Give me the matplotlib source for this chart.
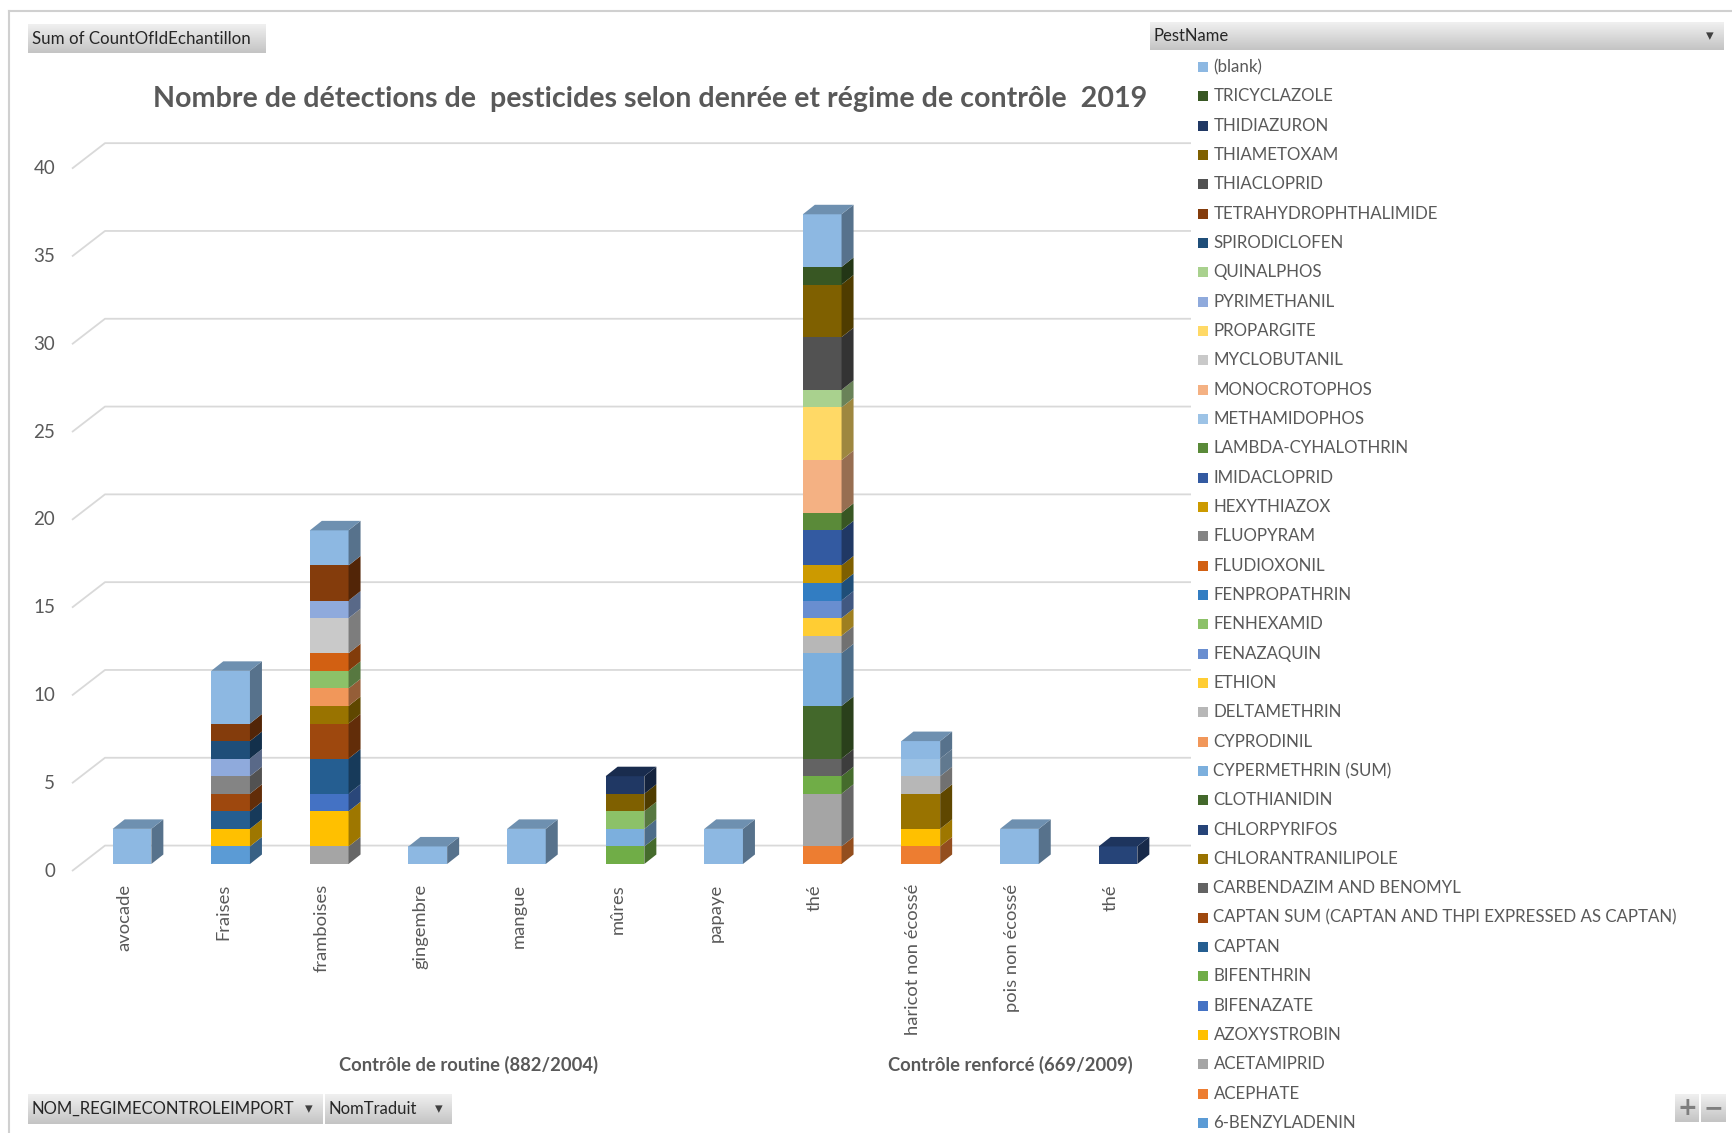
import matplotlib.pyplot as plt
import matplotlib.colors as mcolors
from matplotlib.patches import Polygon, Rectangle
import numpy as np
import pandas as pd

plt.rcParams['font.family'] = ['Lato', 'DejaVu Sans']

# --- donnees ---
categories = ['avocade', 'Fraises', 'framboises', 'gingembre', 'mangue', 'mûres',
              'papaye', 'thé', 'haricot non écossé', 'pois non écossé', 'thé']
regimes = ['Contrôle de routine (882/2004)'] * 8 + ['Contrôle renforcé (669/2009)'] * 3

# ordre d'empilement (bas -> haut), la legende est dans l'ordre inverse
pests = ['6-BENZYLADENIN', 'ACEPHATE', 'ACETAMIPRID', 'AZOXYSTROBIN', 'BIFENAZATE',
         'BIFENTHRIN', 'CAPTAN', 'CAPTAN SUM (CAPTAN AND THPI EXPRESSED AS CAPTAN)',
         'CARBENDAZIM AND BENOMYL', 'CHLORANTRANILIPOLE', 'CHLORPYRIFOS', 'CLOTHIANIDIN',
         'CYPERMETHRIN (SUM)', 'CYPRODINIL', 'DELTAMETHRIN', 'ETHION', 'FENAZAQUIN',
         'FENHEXAMID', 'FENPROPATHRIN', 'FLUDIOXONIL', 'FLUOPYRAM', 'HEXYTHIAZOX',
         'IMIDACLOPRID', 'LAMBDA-CYHALOTHRIN', 'METHAMIDOPHOS', 'MONOCROTOPHOS',
         'MYCLOBUTANIL', 'PROPARGITE', 'PYRIMETHANIL', 'QUINALPHOS', 'SPIRODICLOFEN',
         'TETRAHYDROPHTHALIMIDE', 'THIACLOPRID', 'THIAMETOXAM', 'THIDIAZURON',
         'TRICYCLAZOLE', '(blank)']
pest_colors = ['#5B9BD5', '#ED7D31', '#A5A5A5', '#FFC000', '#4472C4',
               '#70AD47', '#255E91', '#9E480E', '#636363', '#997300', '#264478',
               '#43682B', '#7CAFDD', '#F1975A', '#B7B7B7', '#FFCD33', '#698ED0',
               '#8CC168', '#327DC2', '#D26012', '#848484', '#CC9A00', '#335AA1',
               '#5A8A39', '#9DC3E6', '#F4B183', '#C9C9C9', '#FFD966', '#8FAADC',
               '#A9D18E', '#1F4E79', '#843C0C', '#525252', '#7F6000', '#203864',
               '#385723', '#8DB8E2']

avocade = {'(blank)': 2}
fraises = {'6-BENZYLADENIN': 1, 'AZOXYSTROBIN': 1, 'CAPTAN': 1,
           'CAPTAN SUM (CAPTAN AND THPI EXPRESSED AS CAPTAN)': 1, 'FLUOPYRAM': 1,
           'PYRIMETHANIL': 1, 'SPIRODICLOFEN': 1, 'TETRAHYDROPHTHALIMIDE': 1, '(blank)': 3}
framboises = {'ACETAMIPRID': 1, 'AZOXYSTROBIN': 2, 'BIFENAZATE': 1, 'CAPTAN': 2,
              'CAPTAN SUM (CAPTAN AND THPI EXPRESSED AS CAPTAN)': 2,
              'CHLORANTRANILIPOLE': 1, 'CYPRODINIL': 1, 'FENHEXAMID': 1, 'FLUDIOXONIL': 1,
              'MYCLOBUTANIL': 2, 'PYRIMETHANIL': 1, 'TETRAHYDROPHTHALIMIDE': 2, '(blank)': 2}
gingembre = {'(blank)': 1}
mangue = {'(blank)': 2}
mures = {'BIFENTHRIN': 1, 'CYPERMETHRIN (SUM)': 1, 'FENHEXAMID': 1, 'THIAMETOXAM': 1,
         'THIDIAZURON': 1}
papaye = {'(blank)': 2}
the_routine = {'ACEPHATE': 1, 'ACETAMIPRID': 3, 'BIFENTHRIN': 1, 'CARBENDAZIM AND BENOMYL': 1,
               'CLOTHIANIDIN': 3, 'CYPERMETHRIN (SUM)': 3, 'DELTAMETHRIN': 1, 'ETHION': 1,
               'FENAZAQUIN': 1, 'FENPROPATHRIN': 1, 'HEXYTHIAZOX': 1, 'IMIDACLOPRID': 2,
               'LAMBDA-CYHALOTHRIN': 1, 'MONOCROTOPHOS': 3, 'PROPARGITE': 3, 'QUINALPHOS': 1,
               'THIACLOPRID': 3, 'THIAMETOXAM': 3, 'TRICYCLAZOLE': 1, '(blank)': 3}
haricot = {'ACEPHATE': 1, 'AZOXYSTROBIN': 1, 'CHLORANTRANILIPOLE': 2, 'DELTAMETHRIN': 1,
           'METHAMIDOPHOS': 1, '(blank)': 1}
pois = {'(blank)': 2}
the_renforce = {'CHLORPYRIFOS': 1}

y_ticks = [0, 5, 10, 15, 20, 25, 30, 35, 40]

# tableau croise (categorie x pesticide)
counts = pd.DataFrame([avocade, fraises, framboises, gingembre, mangue, mures, papaye,
                       the_routine, haricot, pois, the_renforce])
counts = counts.reindex(columns=pests).fillna(0)

# --- figure ---
W, H = 1733, 1133
fig = plt.figure(figsize=(W / 100, H / 100), dpi=100)
ax = fig.add_axes([0, 0, 1, 1])
x0_px, step_px = 132, 98.6      # centre de la 1re barre, pas entre categories
y0_px, unit_px = 864, 17.56     # base des barres (depuis le haut), pixels par unite
ax.set_xlim(-x0_px / step_px, (W - x0_px) / step_px)
ax.set_ylim(-(H - y0_px) / unit_px, y0_px / unit_px)
ax.axis('off')

txt = '#595959'
grid_c = '#D9D9D9'

# effet 3D
bw = 38.7 / step_px
dx, dy = 12 / step_px, 9.5 / unit_px
front_x, back_x, right_x = (72 - x0_px) / step_px, (105 - x0_px) / step_px, (1191 - x0_px) / step_px
front_dy, back_dy = -0.4, 1.05

for v in y_ticks:
    ax.plot([front_x, back_x, right_x], [v + front_dy, v + back_dy, v + back_dy],
            color=grid_c, lw=1.3, zorder=1, solid_capstyle='butt')
    ax.text(front_x - 0.17, v + front_dy, str(v), ha='right', va='center',
            fontsize=13.5, color=txt)


def shade(c, f):
    return tuple(np.clip(np.array(mcolors.to_rgb(c)) * f, 0, 1))


xs = np.arange(len(categories))
for i in xs:
    row = counts.iloc[i]
    bottom = 0.0
    top_color = None
    for name, col in zip(pests, pest_colors):
        n = row[name]
        if n <= 0:
            continue
        ax.bar(i, n, bottom=bottom, width=bw, color=col, zorder=3, linewidth=0)
        xr = i + bw / 2
        side = [(xr, bottom), (xr + dx, bottom + dy), (xr + dx, bottom + n + dy), (xr, bottom + n)]
        ax.add_patch(Polygon(side, closed=True, facecolor=shade(col, 0.62), lw=0, zorder=3))
        bottom += n
        top_color = col
    xl = i - bw / 2
    top = [(xl, bottom), (xl + bw, bottom), (xl + bw + dx, bottom + dy), (xl + dx, bottom + dy)]
    ax.add_patch(Polygon(top, closed=True, facecolor=shade(top_color, 0.78), lw=0, zorder=3))
    ax.text(i - 0.075, -1.14, categories[i], rotation=90, ha='center', va='top',
            fontsize=13.2, color=txt)

# libelles de groupe
for reg in dict.fromkeys(regimes):
    idx = [k for k, r in enumerate(regimes) if r == reg]
    ax.text(np.mean(idx) - 0.09, -11.45, reg, ha='center', va='center',
            fontsize=13.2, fontweight='bold', color=txt)

fig.text(650 / W, 1 - 98.5 / H,
         'Nombre de détections de  pesticides selon denrée et régime de contrôle  2019',
         ha='center', va='center', fontsize=20.6, fontweight='bold', color=txt)

# legende (ordre inverse)
leg_y0, leg_step = 67.0, 29.33
for k, (name, col) in enumerate(zip(pests[::-1], pest_colors[::-1])):
    yp = leg_y0 + k * leg_step
    fig.patches.append(Rectangle((1198 / W, 1 - (yp + 5) / H), 10 / W, 10 / H,
                                 transform=fig.transFigure, facecolor=col, lw=0))
    fig.text(1213.5 / W, 1 - yp / H, name, ha='left', va='center', fontsize=12.2, color=txt)


# boutons de champs du tableau croise
def button(x0, y0, x1, y1, label, arrow_x=None, fs=12):
    bax = fig.add_axes([x0 / W, 1 - y1 / H, (x1 - x0) / W, (y1 - y0) / H])
    grad = np.linspace(0, 1, 50)[:, None]
    cmap = mcolors.LinearSegmentedColormap.from_list('g', ['#F0F0F0', '#C4C4C4'])
    bax.imshow(grad, cmap=cmap, aspect='auto', extent=[0, 1, 0, 1])
    bax.set_xlim(0, 1)
    bax.set_ylim(0, 1)
    bax.axis('off')
    if label:
        fig.text((x0 + 4) / W, 1 - (y0 + y1) / 2 / H, label, ha='left', va='center',
                 fontsize=fs, color='#262626')
    if arrow_x is not None:
        fig.text(arrow_x / W, 1 - (y0 + y1) / 2 / H, '▾', ha='center', va='center',
                 fontsize=11, color='#404040', family='DejaVu Sans')
    return bax


button(28, 24, 266, 53, 'Sum of CountOfIdEchantillon', fs=12.2)
button(1150, 22, 1724, 50, 'PestName', arrow_x=1710)
button(28, 1094, 323, 1124, 'NOM_REGIMECONTROLEIMPORT', arrow_x=309)
button(325, 1094, 452, 1124, 'NomTraduit', arrow_x=439)
button(1675, 1094, 1699, 1122, None)
button(1701, 1094, 1726, 1122, None)
fig.text(1687 / W, 1 - 1108 / H, '+', ha='center', va='center', fontsize=17,
         fontweight='bold', color='#7F7F7F', family='DejaVu Sans')
fig.text(1713.5 / W, 1 - 1108 / H, '−', ha='center', va='center', fontsize=17,
         fontweight='bold', color='#7F7F7F', family='DejaVu Sans')

# cadre
fig.add_artist(plt.Line2D([9 / W, 1], [1 - 11 / H, 1 - 11 / H], color='#D0D0D0', lw=1.5))
fig.add_artist(plt.Line2D([9 / W, 9 / W], [0, 1 - 11 / H], color='#D0D0D0', lw=1.5))

fig.savefig('out.png', dpi=100)
